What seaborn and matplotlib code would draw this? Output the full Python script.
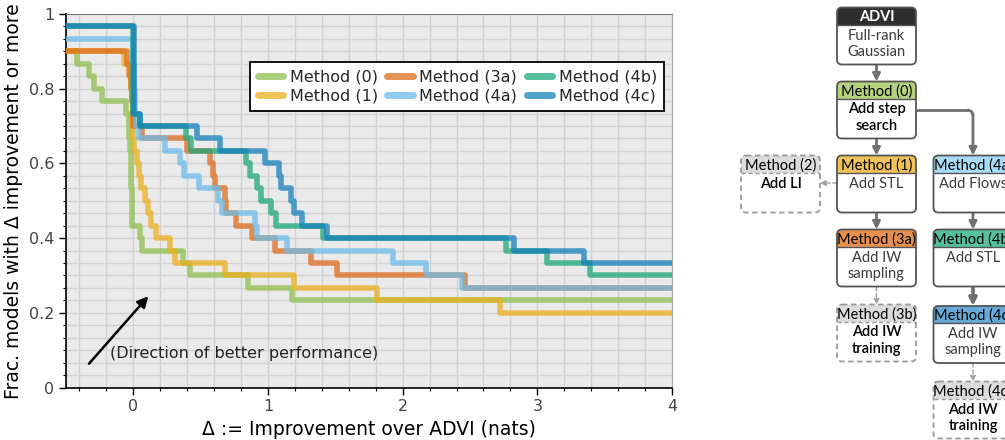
import numpy as np
import pandas as pd
import matplotlib
matplotlib.use("Agg")
import matplotlib.pyplot as plt
import seaborn as sns
from matplotlib.patches import FancyBboxPatch, Rectangle
from matplotlib.lines import Line2D
from matplotlib.ticker import MultipleLocator, FixedLocator, FuncFormatter

# ---------------- data ----------------
methods = ["Method (0)", "Method (1)", "Method (3a)", "Method (4a)", "Method (4b)", "Method (4c)"]
colors = ["#8fbf4f", "#ebaf1c", "#dd6c1c", "#6cbceb", "#1ca879", "#1580bc"]

# improvement (nats) of each of the 30 models; -1 / 5 lie outside the shown range
delta_m0 = [-1, -1, -1, -0.417, -0.33, -0.293, -0.232, -0.058, -0.035, -0.03,
            -0.025, -0.02, -0.018, -0.015, -0.012, -0.01, -0.008, 0.05, 0.065, 0.37,
            0.42, 0.85, 1.18, 5, 5, 5, 5, 5, 5, 5]
delta_m1 = [-1, -1, -1, -0.07, -0.02, -0.015, -0.01, -0.006, -0.003, 0.0,
            0.005, 0.026, 0.045, 0.055, 0.088, 0.11, 0.13, 0.17, 0.27, 0.31,
            0.68, 1.19, 1.81, 2.72, 5, 5, 5, 5, 5, 5]
delta_m3a = [-1, -1, -1, -0.046, -0.03, -0.02, -0.01, -0.005, 0.0, 0.065,
             0.40, 0.57, 0.59, 0.607, 0.68, 0.69, 0.76, 0.88, 1.05, 1.32,
             1.51, 2.46, 5, 5, 5, 5, 5, 5, 5, 5]
delta_m4a = [-1, -1, -0.005, 0.0, 0.003, 0.006, 0.01, 0.015, 0.02, 0.045,
             0.236, 0.347, 0.375, 0.49, 0.63, 0.66, 0.905, 0.915, 1.14, 1.93,
             2.17, 2.44, 5, 5, 5, 5, 5, 5, 5, 5]
delta_m4b = [-1, 0.0, 0.0, 0.0, 0.0, 0.0, 0.0, 0.0, 0.05, 0.39,
             0.43, 0.84, 0.87, 0.92, 0.95, 1.02, 1.06, 1.41, 2.77, 3.07,
             3.39, 5, 5, 5, 5, 5, 5, 5, 5, 5]
delta_m4c = [-1, 0.003, 0.003, 0.003, 0.003, 0.003, 0.003, 0.003, 0.052, 0.47,
             0.645, 0.98, 1.08, 1.10, 1.17, 1.19, 1.25, 1.44, 2.83, 3.35,
             5, 5, 5, 5, 5, 5, 5, 5, 5, 5]
all_deltas = [delta_m0, delta_m1, delta_m3a, delta_m4a, delta_m4b, delta_m4c]

df = pd.concat([pd.DataFrame({"delta": d, "method": m}) for d, m in zip(all_deltas, methods)],
               ignore_index=True)

x_ticks = [0, 1, 2, 3, 4]
y_ticks = [0, 0.2, 0.4, 0.6, 0.8, 1.0]

# flowchart content
box_titles = ["ADVI", "Method (0)", "Method (1)", "Method (2)", "Method (3a)", "Method (3b)",
              "Method (4a)", "Method (4b)", "Method (4c)", "Method (4d)"]
box_bodies = ["Full-rank\nGaussian", "Add step\nsearch", "Add STL", "Add LI", "Add IW\nsampling",
              "Add IW\ntraining", "Add Flows", "Add STL", "Add IW\nsampling", "Add IW\ntraining"]

# ---------------- figure ----------------
sns.set_style("ticks")
plt.rcParams["font.family"] = ["DejaVu Sans"]
W, H = 1005, 440
fig = plt.figure(figsize=(W / 100, H / 100), dpi=100)
ax = fig.add_axes([66 / W, (H - 387.5) / H, (672 - 66) / W, 373.5 / H])
ax.set_facecolor("#eaeaea")

for i, (m, c) in enumerate(zip(methods, colors)):
    sns.ecdfplot(data=df[df["method"] == m], x="delta", complementary=True, color=c,
                 lw=4.0, alpha=0.75, ax=ax, zorder=3 + i)

ax.set_xlim(-0.5, 4)
ax.set_ylim(0, 1)
ax.xaxis.set_major_locator(FixedLocator(x_ticks))
ax.xaxis.set_minor_locator(MultipleLocator(0.2))
ax.yaxis.set_major_locator(FixedLocator(y_ticks))
ax.yaxis.set_minor_locator(MultipleLocator(1 / 30))
ax.yaxis.set_major_formatter(FuncFormatter(lambda v, p: f"{v:g}"))
ax.grid(which="both", color="#d2d2d2", lw=1.0, zorder=0)
ax.set_axisbelow(True)
ax.tick_params(which="major", length=5, width=1, labelsize=11.5, labelcolor="#444444", color="black")
ax.tick_params(which="minor", length=2.5, width=0.8, color="black")
for s in ["left", "bottom"]:
    ax.spines[s].set_color("black")
    ax.spines[s].set_linewidth(1.2)
ax.spines["top"].set_color("#777777")
ax.spines["right"].set_color("#aaaaaa")
ax.spines["top"].set_visible(True)
ax.spines["right"].set_visible(True)

ax.set_xlabel("Δ := Improvement over ADVI (nats)", fontsize=13.5, color="black", labelpad=4)
ax.set_ylabel("Frac. models with Δ improvement or more", fontsize=13.5, color="black", labelpad=4)

handles = [Line2D([0], [0], color=c, lw=5, alpha=0.75) for c in colors]
leg = ax.legend(handles, methods, ncol=3, loc="upper right", bbox_to_anchor=(0.987, 0.8715),
                borderaxespad=0, fontsize=11.5, frameon=True, fancybox=False, framealpha=1,
                edgecolor="black", handlelength=1.6, handletextpad=0.4, columnspacing=0.6,
                borderpad=0.45, labelspacing=0.3)
leg.get_frame().set_linewidth(1.3)
leg.set_zorder(20)

ax.annotate("", xy=(0.125, 0.25), xytext=(-0.343, 0.058),
            arrowprops=dict(arrowstyle="-|>", color="black", lw=1.8, mutation_scale=16), zorder=15)
ax.text(-0.172, 0.09, "(Direction of better performance)", fontsize=11.5, ha="left", va="center",
        color="#222222", zorder=15)

# ---------------- flowchart ----------------
fa = fig.add_axes([730 / W, 0, 330 / W, 1])
fa.set_xlim(730, 1060)
fa.set_ylim(440, 0)
fa.axis("off")

ff = ["Lato", "DejaVu Sans"]
bw, bh, hh = 79, 57, 17.5
box_pos = [(837, 7.5), (837, 81.5), (837, 155.5), (741, 155.5), (837, 229.5), (837, 304.5),
           (933.5, 155.5), (933.5, 229.5), (933.5, 306), (933.5, 381.5)]
head_cols = ["#2e2e2e", "#b4d17c", "#f0c257", "#dcdcdc", "#e8914f", "#dcdcdc",
             "#a8dbf4", "#55c19c", "#66a9d8", "#dcdcdc"]
dashed = [False, False, False, True, False, True, False, False, False, True]
body_dark = [False, True, False, True, False, True, False, False, False, True]

for (x, y), t, b, hc, dsh, bd in zip(box_pos, box_titles, box_bodies, head_cols, dashed, body_dark):
    ec = "#9a9a9a" if dsh else "#555555"
    ls = (0, (3, 2)) if dsh else "-"
    outer = FancyBboxPatch((x, y), bw, bh, boxstyle="round,pad=0,rounding_size=5",
                           fc="white", ec="none", zorder=2)
    fa.add_patch(outer)
    head = Rectangle((x, y), bw, hh, fc=hc, ec="none", zorder=3)
    fa.add_patch(head)
    head.set_clip_path(outer)
    fa.plot([x, x + bw], [y + hh, y + hh], color=ec, lw=1.0, ls=ls, zorder=4)
    border = FancyBboxPatch((x, y), bw, bh, boxstyle="round,pad=0,rounding_size=5",
                            fc="none", ec=ec, lw=1.3, ls=ls, zorder=5)
    fa.add_patch(border)
    tcol = "white" if t == "ADVI" else "black"
    fa.text(x + bw / 2, y + hh / 2 + 0.8, t, ha="center", va="center", fontsize=10.5,
            family=ff, color=tcol, fontweight="bold" if t == "ADVI" else "normal", zorder=6)
    fa.text(x + bw / 2, y + hh + 3.5, b, ha="center", va="top", fontsize=10.5,
            family=ff, color="black" if bd else "#3c3c3c",
            fontweight="semibold" if bd else "normal", linespacing=1.2, zorder=6)

arrow_col = "#707070"
def solid_arrow(x0, y0, x1, y1, lw=2.0):
    fa.annotate("", xy=(x1, y1), xytext=(x0, y0),
                arrowprops=dict(arrowstyle="-|>", color=arrow_col, lw=lw, mutation_scale=11,
                                shrinkA=0, shrinkB=0), zorder=1)

def dashed_arrow(x0, y0, x1, y1):
    fa.annotate("", xy=(x1, y1), xytext=(x0, y0),
                arrowprops=dict(arrowstyle="-|>", color="#a0a0a0", lw=1.0, ls=(0, (3, 2)),
                                mutation_scale=8, shrinkA=0, shrinkB=0), zorder=1)

cx1, cx2 = 837 + bw / 2, 933.5 + bw / 2
solid_arrow(cx1, 64.5, cx1, 81.5)
solid_arrow(cx1, 138.5, cx1, 155.5)
solid_arrow(cx1, 212.5, cx1, 229.5)
fa.plot([916, cx2 - 5], [110, 110], color=arrow_col, lw=2.0, zorder=1, solid_capstyle="butt")
fa.plot([cx2 - 5, cx2 - 1.5, cx2], [110, 111.5, 115], color=arrow_col, lw=2.0, zorder=1)
solid_arrow(cx2, 114, cx2, 155.5)
solid_arrow(cx2, 212.5, cx2, 229.5)
solid_arrow(cx2, 287, cx2, 306, lw=2.6)
dashed_arrow(837, 183, 820, 183)
dashed_arrow(cx1, 287, cx1, 304.5)
dashed_arrow(cx2, 363, cx2, 381.5)

fig.savefig("out.png", dpi=100)
